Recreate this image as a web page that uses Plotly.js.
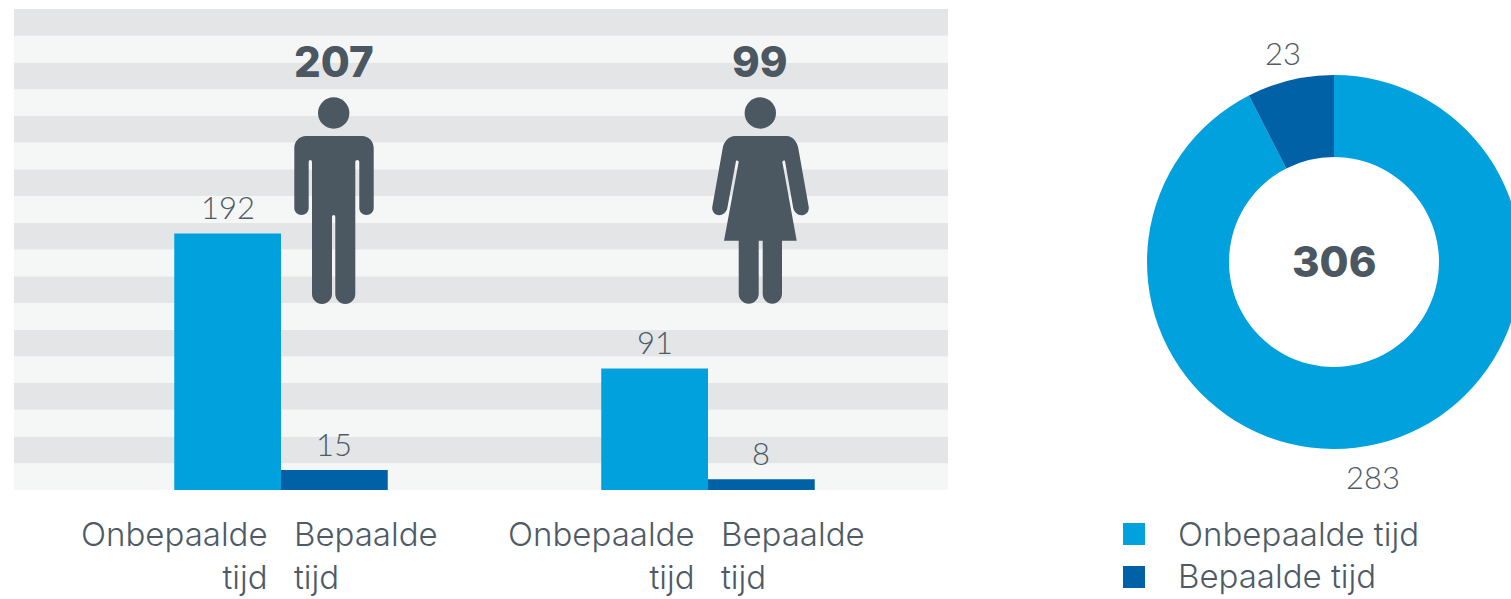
<!DOCTYPE html>
<html>
<head>
<meta charset="utf-8">
<script src="https://cdn.plot.ly/plotly-3.0.1.min.js"></script>
<style>html,body{margin:0;padding:0;overflow:hidden;background:#fff;width:1511px;height:599px}#chart{width:1600px;height:599px}</style>
</head>
<body>
<div id="chart"></div>
<script>
const groups = ['Mannen', 'Vrouwen'];
const seriesNames = ['Onbepaalde tijd', 'Bepaalde tijd'];
const permanent = [192, 91];
const temporary = [15, 8];
const groupTotals = [207, 99];
const donutValues = [283, 23];
const donutTotal = 306;
const tickLabelLeft = 'Onbepaalde<br>tijd';
const tickLabelRight = 'Bepaalde<br>tijd';

const W = 1600, H = 599;
const BLUE = '#00a1dc', DARK = '#0061a6', TEXT = '#4e5b66', ICON = '#4b5761';
const GREY = '#e4e5e7', LIGHT = '#f5f7f6';
const light = {family: 'Lato', weight: 300, size: 31, color: TEXT};
const word = {family: 'Inter', weight: 300, size: 33, color: TEXT};
const heavy = {family: 'Inter', weight: 800, size: 42, color: ICON};
const px = x => (x / W).toFixed(5), py = y => (1 - y / H).toFixed(5);

function buildPath(cmds) {
  let out = '', cur = null;
  const k = 0.5523;
  for (const c of cmds) {
    if (c[0] === 'Z') { out += 'Z'; continue; }
    if (c[0] === 'M' || c[0] === 'L') {
      out += c[0] + px(c[1]) + ' ' + py(c[2]) + ' ';
      cur = [c[1], c[2]];
    } else {
      const [ , cx, cy, x, y] = c;
      const a = [cur[0] + (cx - cur[0]) * k, cur[1] + (cy - cur[1]) * k];
      const b = [x + (cx - x) * k, y + (cy - y) * k];
      out += 'C' + px(a[0]) + ' ' + py(a[1]) + ' ' + px(b[0]) + ' ' + py(b[1]) + ' ' + px(x) + ' ' + py(y) + ' ';
      cur = [x, y];
    }
  }
  return out;
}

const man = [['M',306,136],['L',362,136],['R',373.7,136,373.7,148],['L',373.7,208],['R',373.7,215,366.5,215],['R',359.3,215,359.3,208],
  ['L',359.3,162],['R',359.3,160,357.3,160],['R',355.3,160,355.3,162],['L',355.3,294],['R',355.3,304,345.3,304],['R',335.3,304,335.3,294],
  ['L',335.3,217],['R',335.3,215,333.7,215],['R',332,215,332,217],['L',332,294],['R',332,304,322,304],['R',312,304,312,294],
  ['L',312,162],['R',312,160,310.3,160],['R',308.7,160,308.7,162],['L',308.7,208],['R',308.7,215,301.5,215],['R',294.3,215,294.3,208],
  ['L',294.3,148],['R',294.3,136,306,136],['Z']];
const woman = [['M',735,136],['L',786.7,136],['R',796.5,136,798.3,148.3],['L',808.7,206.7],['R',810,215.3,801.3,215.3],['R',795,215.3,793.3,208.3],
  ['L',785,161],['R',784,159.5,782.3,161.7],['L',796.7,240.7],['L',782,240.7],['L',782,293.7],['R',782,303.7,772.3,303.7],['R',762.7,303.7,762.7,293.7],
  ['L',762.7,240.7],['L',758.7,240.7],['L',758.7,293.7],['R',758.7,303.7,748.7,303.7],['R',738.7,303.7,738.7,293.7],['L',738.7,240.7],['L',724,240.7],
  ['L',738.7,161.7],['R',737,159.5,736,161],['L',727.3,208.3],['R',725.5,215.3,719.3,215.3],['R',711,215.3,712.3,206.7],['L',722.7,148.3],['R',724.5,136,735,136],['Z']];

const shapes = [];
for (let i = 0; i < 18; i++) {
  shapes.push({type:'rect', layer:'below', xref:'paper', yref:'y', x0:14/W, x1:948/W, y0:i*20, y1:(i+1)*20,
    fillcolor: i % 2 ? GREY : LIGHT, line:{width:0}});
}
const icon = d => ({type:'path', xref:'paper', yref:'paper', path:buildPath(d), fillcolor:ICON, line:{width:0}});
const head = cx => ({type:'circle', xref:'paper', yref:'paper', x0:(cx-15.7)/W, x1:(cx+15.7)/W, y0:py(128.7), y1:py(97.3), fillcolor:ICON, line:{width:0}});
shapes.push(icon(man), head(333.7), icon(woman), head(760.3));
shapes.push({type:'rect', xref:'paper', yref:'paper', x0:1123/W, x1:1145/W, y0:py(545), y1:py(523), fillcolor:BLUE, line:{width:0}});
shapes.push({type:'rect', xref:'paper', yref:'paper', x0:1123/W, x1:1145/W, y0:py(588), y1:py(566), fillcolor:DARK, line:{width:0}});

const note = (text, x, y, font, xanchor='center', align='center') => ({text, x:x/W, y:+py(y), xref:'paper', yref:'paper', showarrow:false, font, xanchor, yanchor:'middle', align, borderpad:0});
const annotations = [
  note(String(donutTotal), 1334, 261, heavy),
  note(String(donutValues[1]), 1283, 53, light),
  note(String(donutValues[0]), 1373, 477, light),
  note(seriesNames[0], 1177, 534, word, 'left', 'left'),
  note(seriesNames[1], 1177, 576, word, 'left', 'left')
];
groups.forEach((g, i) => {
  annotations.push({text:String(groupTotals[i]), xref:'x', x:g, xshift:52.5, yref:'paper', y:+py(61), showarrow:false, font:heavy, yanchor:'middle'});
  annotations.push({text:tickLabelLeft, xref:'x', x:g, xshift:-11, xanchor:'right', align:'right', yref:'paper', y:+py(555.5), yanchor:'middle', showarrow:false, font:word});
  annotations.push({text:tickLabelRight, xref:'x', x:g, xshift:11, xanchor:'left', align:'left', yref:'paper', y:+py(555.5), yanchor:'middle', showarrow:false, font:word});
  annotations.push({text:String(permanent[i]), xref:'x', x:g, xshift:-53.4, yref:'y', y:permanent[i], yanchor:'bottom', yshift:5, showarrow:false, font:light});
  annotations.push({text:String(temporary[i]), xref:'x', x:g, xshift:53.4, yref:'y', y:temporary[i], yanchor:'bottom', yshift:5, showarrow:false, font:light});
});

const barBase = {type:'bar', x:groups, textposition:'none', cliponaxis:false, hoverinfo:'skip'};
const data = [
  Object.assign({}, barBase, {name:seriesNames[0], y:permanent, marker:{color:BLUE, line:{width:0}}}),
  Object.assign({}, barBase, {name:seriesNames[1], y:temporary, marker:{color:DARK, line:{width:0}}}),
  {type:'pie', labels:seriesNames, values:donutValues, sort:false, direction:'clockwise', rotation:0, hole:105/187,
    marker:{colors:[BLUE, DARK], line:{width:0}}, textinfo:'none', hoverinfo:'skip',
    domain:{x:[1147/W, 1521/W], y:[1-449/H, 1-75/H]}}
];
const layout = {
  width:W, height:H, margin:{l:0,r:0,t:0,b:0,pad:0}, showlegend:false,
  paper_bgcolor:'#fff', plot_bgcolor:'rgba(0,0,0,0)',
  barmode:'group', bargap:0.5, bargroupgap:0,
  xaxis:{domain:[14/W, 948/W], type:'category', categoryorder:'array', categoryarray:groups, range:[-0.6253, 1.5621], showticklabels:false, showgrid:false, zeroline:false, showline:false, ticks:'', fixedrange:true},
  yaxis:{domain:[1-490/H, 1-9/H], range:[0,360], showticklabels:false, showgrid:false, zeroline:false, showline:false, ticks:'', fixedrange:true},
  shapes, annotations, font:{family:'Lato', color:TEXT}
};
Plotly.newPlot('chart', data, layout, {displayModeBar:false, staticPlot:true});
</script>
</body>
</html>
